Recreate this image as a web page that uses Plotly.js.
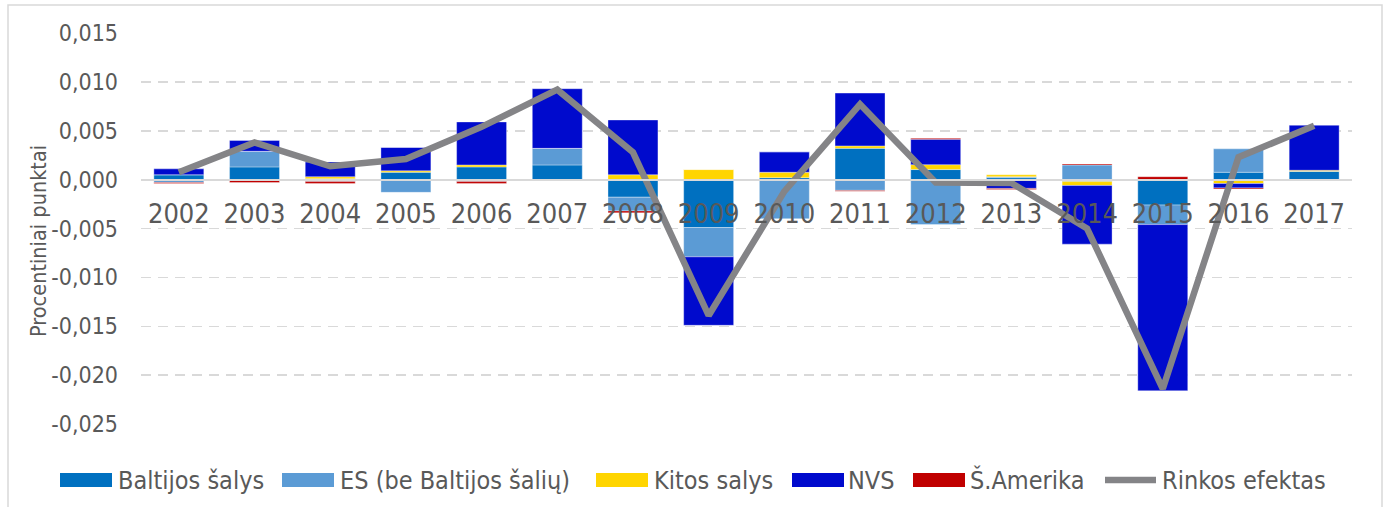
<!DOCTYPE html>
<html>
<head>
<meta charset="utf-8">
<script src="https://cdn.plot.ly/plotly-3.0.1.min.js"></script>
<style>
  html, body { margin: 0; padding: 0; background: #ffffff; }
  #chart { width: 1386px; height: 507px; }
</style>
</head>
<body>
<div id="chart"></div>
<script>
// ---- Data ----
const years = ['2002','2003','2004','2005','2006','2007','2008','2009','2010','2011','2012','2013','2014','2015','2016','2017'];
const baltijos = [0.0005, 0.0013, 0.0001, 0.00075, 0.0013, 0.0015, -0.0018, -0.0049, 0.0002, 0.0032, 0.00103, 0.0002, -0.0002, -0.0026, 0.00075, 0.00086];
const es       = [-0.0003, 0.0016, -0.0002, -0.0013, -0.0002, 0.0017, -0.0014, -0.0030, -0.0040, -0.0011, -0.0046, 0.0001, 0.0015, -0.0020, 0.0024, 0.0];
const kitos    = [0.0, 0.0, 0.0002, 0.00015, 0.0002, 0.0, 0.0005, 0.00103, 0.00055, 0.00025, 0.0005, 0.0002, -0.0004, 0.0, -0.0004, 0.0001];
const nvs      = [0.0006, 0.0011, 0.0015, 0.0024, 0.0044, 0.0061, 0.0056, -0.0070, 0.0021, 0.0054, 0.0026, -0.0009, -0.0060, -0.0170, -0.00045, 0.0046];
const samerika = [-0.0001, -0.0003, -0.0002, 0.0, -0.0002, -0.0001, -0.0002, 0.0, 0.0, -0.0001, 0.0001, -0.0001, 0.0001, 0.0003, -0.0001, -0.0001];
const rinkos   = [0.00075, 0.0038, 0.00137, 0.0021, 0.0054, 0.0092, 0.0028, -0.0139, -0.0012, 0.0077, -0.0003, -0.00035, -0.0050, -0.0214, 0.0023, 0.0055];

const seriesNames = ['Baltijos šalys', 'ES (be Baltijos šalių)', 'Kitos salys', 'NVS', 'Š.Amerika', 'Rinkos efektas'];
const yTickVals  = [0.015, 0.010, 0.005, 0.0, -0.005, -0.010, -0.015, -0.020, -0.025];
const yTickText  = ['0,015', '0,010', '0,005', '0,000', '-0,005', '-0,010', '-0,015', '-0,020', '-0,025'];
const yTitle = 'Procentiniai punktai';

// ---- Styles ----
const colors = ['#0070C0', '#5B9BD5', '#FFD500', '#000ACD', '#C00000', '#848487'];
const FONT = '"DejaVu Sans Condensed", "DejaVu Sans", sans-serif';
const TXT = '#595959';

// plot area in pixels
const L = 141, R = 1352, T = 33, B = 424;
const px2x = p => (p - L) / (R - L);
const px2y = p => (B - p) / (B - T);

const barSeries = [baltijos, es, kitos, nvs, samerika];
const traces = barSeries.map((vals, i) => ({
  type: 'bar',
  name: seriesNames[i],
  x: years,
  y: vals,
  marker: { color: colors[i], line: { color: 'rgba(255,255,255,0.35)', width: 1 } },
  showlegend: false,
  hoverinfo: 'x+y+name'
}));
traces.push({
  type: 'scatter',
  mode: 'lines',
  name: seriesNames[5],
  x: years,
  y: rinkos,
  line: { color: colors[5], width: 6.5 },
  showlegend: false
});

// custom legend (wide swatches like the reference)
const legendItems = [
  { sx: 60,  tx: 116 },
  { sx: 282, tx: 338 },
  { sx: 596, tx: 652 },
  { sx: 792, tx: 846 },
  { sx: 913, tx: 968 },
  { sx: 1103, tx: 1160 }
];
const legendY = 480;
const shapes = [];
const annotations = [];
legendItems.forEach((it, i) => {
  if (i < 5) {
    shapes.push({ type: 'rect', xref: 'paper', yref: 'paper',
      x0: px2x(it.sx), x1: px2x(it.sx + 52), y0: px2y(legendY - 7), y1: px2y(legendY + 7),
      fillcolor: colors[i], line: { width: 0 } });
  } else {
    shapes.push({ type: 'line', xref: 'paper', yref: 'paper',
      x0: px2x(it.sx + 2), x1: px2x(it.sx + 53), y0: px2y(legendY), y1: px2y(legendY),
      line: { color: colors[i], width: 6.5 } });
  }
  annotations.push({ xref: 'paper', yref: 'paper', x: px2x(it.tx), y: px2y(legendY),
    xanchor: 'left', yanchor: 'middle', showarrow: false, text: seriesNames[i],
    font: { family: FONT, size: 25, color: TXT } });
});
// y-axis title placed like the reference
annotations.push({ xref: 'paper', yref: 'paper', x: px2x(38), y: px2y(241),
  xanchor: 'center', yanchor: 'middle', textangle: -90, showarrow: false, text: yTitle,
  font: { family: FONT, size: 21.5, color: TXT } });
// chart frame
shapes.push({ type: 'rect', xref: 'paper', yref: 'paper', layer: 'below',
  x0: px2x(8), x1: px2x(1382), y0: px2y(540), y1: px2y(5),
  line: { color: '#D9D9D9', width: 1.5 }, fillcolor: 'rgba(0,0,0,0)' });

const layout = {
  width: 1386, height: 507,
  margin: { l: L, r: 1386 - R, t: T, b: 507 - B, pad: 0 },
  paper_bgcolor: '#ffffff', plot_bgcolor: '#ffffff',
  barmode: 'relative',
  bargap: 0.34,
  showlegend: false,
  font: { family: FONT, color: TXT },
  xaxis: {
    type: 'category',
    anchor: 'free',
    position: 0.625,
    showline: true, linecolor: '#D9D9D9', linewidth: 2,
    showgrid: false, zeroline: false,
    ticks: '',
    tickfont: { family: FONT, size: 27, color: TXT },
    ticklabelstandoff: 10,
    fixedrange: true
  },
  yaxis: {
    range: [-0.025, 0.015],
    tickvals: yTickVals,
    ticktext: yTickText,
    showgrid: true, gridcolor: '#D9D9D9', gridwidth: 1.5, griddash: '10px,7px',
    zeroline: false,
    showline: false,
    ticks: '',
    ticklabelstandoff: 22,
    tickfont: { family: FONT, size: 23, color: TXT },
    fixedrange: true
  },
  shapes: shapes,
  annotations: annotations
};

Plotly.newPlot('chart', traces, layout, { displayModeBar: false, staticPlot: true });
</script>
</body>
</html>
